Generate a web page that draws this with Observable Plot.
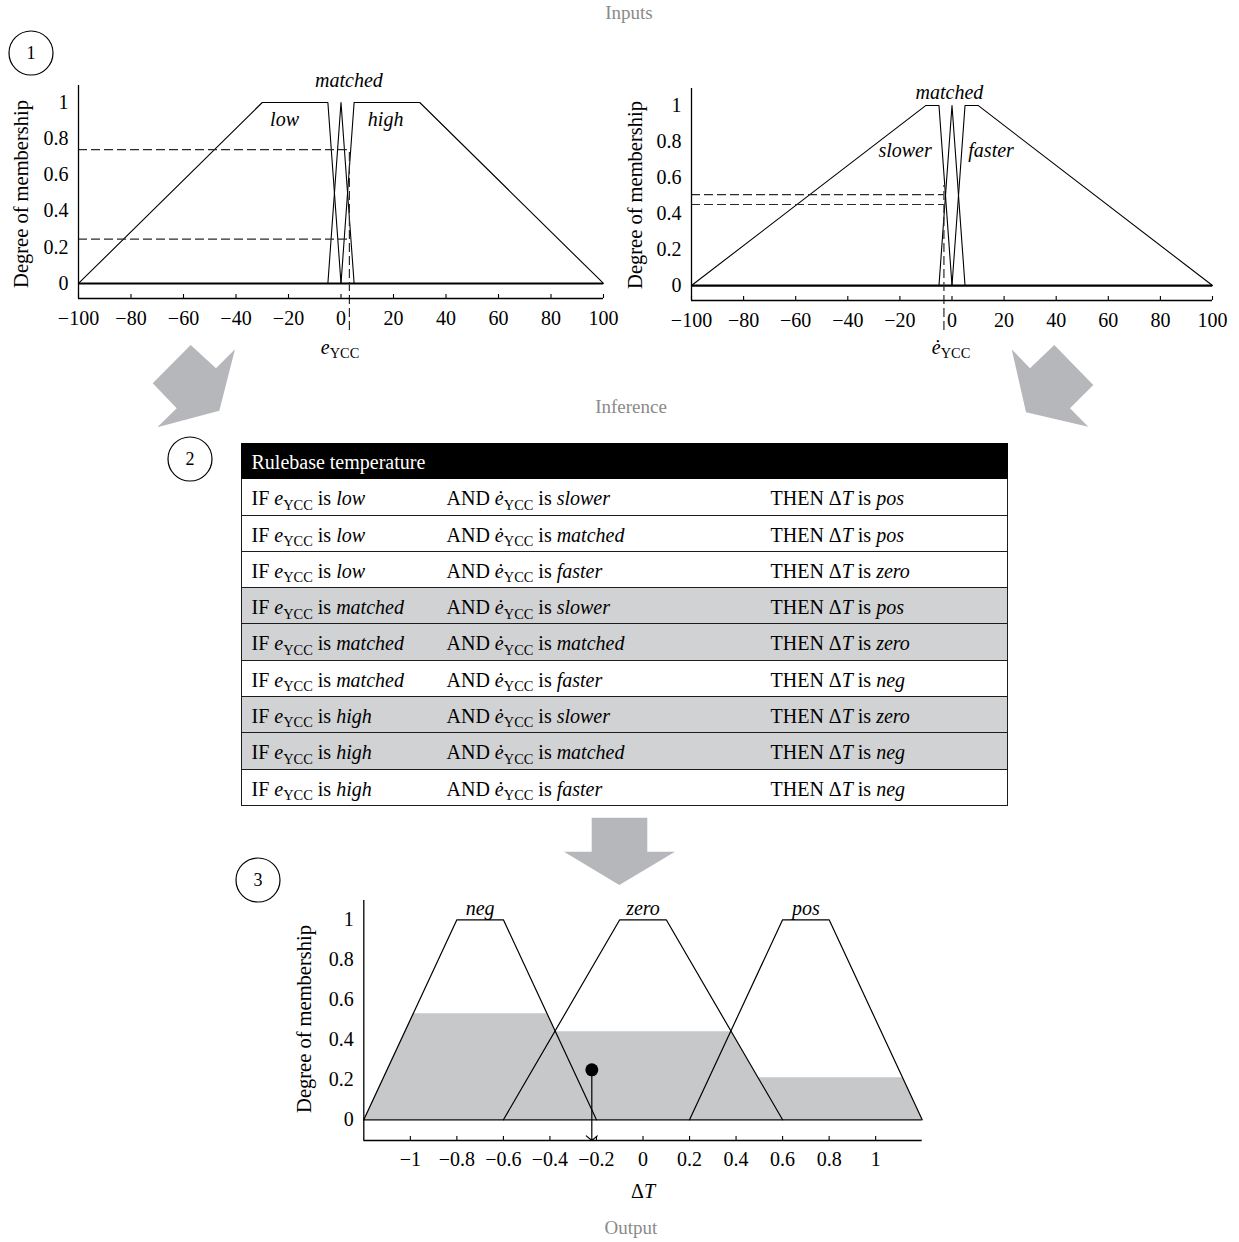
<!DOCTYPE html>
<html>
<head>
<meta charset="utf-8">
<script src="https://cdn.jsdelivr.net/npm/d3@7"></script>
<script src="https://cdn.jsdelivr.net/npm/@observablehq/plot@0.6"></script>
<style>
  body { margin: 0; background: #fff; }
  #page { position: relative; width: 1239px; height: 1242px; overflow: hidden; font-family: "Liberation Serif", "DejaVu Serif", serif; color: #000; }
  .sec { position: absolute; color: #8a8a8a; font-size: 19px; transform: translate(-50%, -50%); white-space: nowrap; }
  .lab { position: absolute; font-size: 20px; transform: translate(-50%, -50%); white-space: nowrap; line-height: 1.15; }
  .ylab { position: absolute; font-size: 20.5px; transform: translate(-50%, -50%) rotate(-90deg); white-space: nowrap; line-height: 1.15; }
  .sub { font-size: 0.72em; position: relative; top: 0.3em; }
  #table { position: absolute; left: 241px; top: 443px; width: 767px; font-size: 20px; }
  .row { display: flex; height: 36.3px; box-sizing: border-box; border-left: 1.5px solid #1c1c1c; border-right: 1.5px solid #1c1c1c; border-bottom: 1.6px solid #1c1c1c; line-height: 34px; white-space: nowrap; }
  .row > div { box-sizing: border-box; padding-left: 9.5px; position: relative; top: 2px; }
  .hdr { background: #000; color: #fff; border-color: #000; }
  .c1 { width: 195px; } .c2 { width: 324px; } .c3 { width: 245px; }
  .shade { background: #d1d2d4; }
</style>
</head>
<body>
<div id="page"></div>
<script>
// ---------------- data ----------------
const xTicksInput = [-100, -80, -60, -40, -20, 0, 20, 40, 60, 80, 100];
const yTicksMembership = [0, 0.2, 0.4, 0.6, 0.8, 1];
const xTicksOutput = [-1, -0.8, -0.6, -0.4, -0.2, 0, 0.2, 0.4, 0.6, 0.8, 1];

// input 1: e_YCC
const eLowX = [-100, -30, -5, 0];     const eLowY = [0, 1, 1, 0];
const eMatchedX = [-5, 0, 5];         const eMatchedY = [0, 1, 0];
const eHighX = [0, 5, 30, 100];       const eHighY = [0, 1, 1, 0];
const eInput = 3.2;
const eDegrees = [0.74, 0.245];
const eInputSpan = [-0.26, 0.74];
const eLabels = ["low", "matched", "high"];
const eLabelX = [-21.5, 3, 17];
const eLabelY = [0.905, 1.12, 0.905];

// input 2: e-dot_YCC
const dSlowerX = [-100, -10, -5, 0];  const dSlowerY = [0, 1, 1, 0];
const dMatchedX = [-5, 0, 5];         const dMatchedY = [0, 1, 0];
const dFasterX = [0, 5, 10, 100];     const dFasterY = [0, 1, 1, 0];
const dInput = -3.1;
const dDegrees = [0.505, 0.45];
const dInputSpan = [-0.25, 0.555];
const dLabels = ["slower", "matched", "faster"];
const dLabelX = [-18, -1, 15];
const dLabelY = [0.75, 1.072, 0.75];

// output: Delta T
const negX = [-1.2, -0.8, -0.6, -0.2];
const zeroX = [-0.6, -0.1, 0.1, 0.6];
const posX = [0.2, 0.6, 0.8, 1.2];
const outY = [0, 1, 1, 0];
const aggX = [-1.2, -0.988, -0.412, -0.376, 0.378, 0.495, 1.116, 1.2];
const aggY = [0, 0.53, 0.53, 0.44, 0.44, 0.21, 0.21, 0];
const centroidX = -0.22;
const centroidY = 0.25;
const outLabels = ["neg", "zero", "pos"];
const outLabelX = [-0.7, 0, 0.7];
const outLabelY = [1.056, 1.056, 1.056];

// rule base
const ruleE = ["low", "low", "low", "matched", "matched", "matched", "high", "high", "high"];
const ruleD = ["slower", "matched", "faster", "slower", "matched", "faster", "slower", "matched", "faster"];
const ruleT = ["pos", "pos", "zero", "pos", "zero", "neg", "zero", "neg", "neg"];
const ruleShade = [false, false, false, true, true, false, true, true, false];

// ---------------- helpers ----------------
const fmt = d => (d < 0 ? "\u2212" + Math.abs(d) : String(d));
const pts = (xs, ys) => xs.map((x, i) => ({x, y: ys[i]}));
const lbls = (t, xs, ys) => t.map((text, i) => ({text, x: xs[i], y: ys[i]}));
const page = document.getElementById("page");
const font = "'Liberation Serif', 'DejaVu Serif', serif";

function place(el, left, top) {
  el.style.position = "absolute";
  el.style.left = left + "px";
  el.style.top = top + "px";
  page.appendChild(el);
}

// inward tick marks of 4px at the bottom of the frame
const innerTicks = (ticks, frameHeight) =>
  Plot.tickX(ticks, {x: d => d, insetTop: frameHeight - 4, stroke: "#000", strokeWidth: 1.1});

function inputPlot(o) {
  const [x0, x1] = [-100, 100];
  const [y0, y1] = [-0.083, 1.094];
  const dash = {stroke: "#2a2a2a", strokeWidth: 1.2, strokeDasharray: "9,4"};
  const frameH = o.height - o.mt - o.mb;
  return Plot.plot({
    width: o.width, height: o.height,
    marginLeft: o.ml, marginRight: o.mr, marginTop: o.mt, marginBottom: o.mb,
    style: {fontFamily: font, fontSize: "20px", background: "transparent", color: "#000", overflow: "visible"},
    x: {domain: [x0, x1]},
    y: {domain: [y0, y1]},
    marks: [
      Plot.ruleY([0], {x1: x0, x2: x1, stroke: "#000", strokeWidth: 2.2}),
      ...o.sets.map(s => Plot.line(s, {x: "x", y: "y", stroke: "#000", strokeWidth: 1.1})),
      Plot.ruleY(o.degrees, {x1: x0, x2: o.input, ...dash}),
      Plot.ruleX([o.input], {y1: o.span[0], y2: o.span[1], ...dash}),
      Plot.ruleX([x0], {y1: y0, y2: y1, stroke: "#000", strokeWidth: 1.3}),
      Plot.ruleY([y0], {x1: x0, x2: x1, stroke: "#000", strokeWidth: 1.3}),
      innerTicks(xTicksInput, frameH),
      Plot.text(o.labels, {x: "x", y: "y", text: "text", fontStyle: "italic", fontSize: 20}),
      Plot.axisX(xTicksInput, {tickSize: 0, tickPadding: 12.5, tickFormat: fmt, label: null, fontSize: 20}),
      Plot.axisY(yTicksMembership, {tickSize: 0, tickPadding: 10, tickFormat: fmt, label: null, fontSize: 20})
    ]
  });
}

// ---------------- decorations ----------------
const deco = document.createElementNS("http://www.w3.org/2000/svg", "svg");
deco.setAttribute("width", 1239);
deco.setAttribute("height", 1242);
deco.innerHTML = `
  <g fill="#b6b7ba" stroke="none">
    <polygon points="190.7,345 216,368.3 235,349.3 219.3,410.7 157.3,427.3 176.7,408.3 152.7,383.3"/>
    <polygon points="1011.7,349.3 1030,368.3 1054.3,345 1093.3,385 1070,408.3 1088.3,426.7 1026,412.3"/>
    <polygon points="591.7,817.7 647.3,817.7 647.3,851.7 675,851.7 619.3,885 564,851.7 591.7,851.7"/>
  </g>
  <g fill="none" stroke="#000" stroke-width="1.2">
    <circle cx="31" cy="53" r="22"/>
    <circle cx="190" cy="459" r="22"/>
    <circle cx="258" cy="880" r="22"/>
  </g>
  <g font-family="${font}" font-size="18" text-anchor="middle" dominant-baseline="central">
    <text x="31" y="53">1</text>
    <text x="190" y="459">2</text>
    <text x="258" y="880">3</text>
  </g>`;
place(deco, 0, 0);

// section titles
for (const [t, x, y] of [["Inputs", 629, 13], ["Inference", 631, 407], ["Output", 631, 1228]]) {
  const d = document.createElement("div");
  d.className = "sec"; d.textContent = t;
  d.style.left = x + "px"; d.style.top = y + "px";
  page.appendChild(d);
}

// ---------------- input plots ----------------
const plotE = inputPlot({
  width: 620, height: 270, ml: 78, mr: 17, mt: 15, mb: 42,
  sets: [pts(eLowX, eLowY), pts(eMatchedX, eMatchedY), pts(eHighX, eHighY)],
  degrees: eDegrees, input: eInput, span: eInputSpan,
  labels: lbls(eLabels, eLabelX, eLabelY)
});
place(plotE, 0, 70);

const plotD = inputPlot({
  width: 619, height: 272, ml: 71, mr: 27, mt: 18, mb: 42,
  sets: [pts(dSlowerX, dSlowerY), pts(dMatchedX, dMatchedY), pts(dFasterX, dFasterY)],
  degrees: dDegrees, input: dInput, span: dInputSpan,
  labels: lbls(dLabels, dLabelX, dLabelY)
});
place(plotD, 620, 70);

// ---------------- output plot ----------------
{
  const [x0, x1] = [-1.2, 1.2];
  const [y0, y1] = [-0.1035, 1.0965];
  const plotT = Plot.plot({
    width: 680, height: 300,
    marginLeft: 83.3, marginRight: 38.3, marginTop: 20, marginBottom: 40,
    style: {fontFamily: font, fontSize: "20px", background: "transparent", color: "#000", overflow: "visible"},
    x: {domain: [x0, x1]},
    y: {domain: [y0, y1]},
    marks: [
      Plot.areaY(pts(aggX, aggY), {x: "x", y: "y", fill: "#c6c8ca"}),
      Plot.ruleY([0], {x1: x0, x2: x1, stroke: "#000", strokeWidth: 1.3}),
      Plot.line(pts(negX, outY), {x: "x", y: "y", stroke: "#000", strokeWidth: 1.2}),
      Plot.line(pts(zeroX, outY), {x: "x", y: "y", stroke: "#000", strokeWidth: 1.2}),
      Plot.line(pts(posX, outY), {x: "x", y: "y", stroke: "#000", strokeWidth: 1.2}),
      Plot.ruleX([x0], {y1: y0, y2: y1, stroke: "#000", strokeWidth: 1.3}),
      Plot.ruleY([y0], {x1: x0, x2: x1, stroke: "#000", strokeWidth: 1.3}),
      innerTicks(xTicksOutput, 240),
      Plot.arrow([{x: centroidX, ya: centroidY, yb: y0}], {x1: "x", x2: "x", y1: "ya", y2: "yb", stroke: "#000", strokeWidth: 1.2, headLength: 9, headAngle: 100}),
      Plot.dot([{x: centroidX, y: centroidY}], {x: "x", y: "y", r: 6.5, fill: "#000", stroke: "none"}),
      Plot.text(lbls(outLabels, outLabelX, outLabelY), {x: "x", y: "y", text: "text", fontStyle: "italic", fontSize: 20}),
      Plot.axisX(xTicksOutput, {tickSize: 0, tickPadding: 11, tickFormat: fmt, label: null, fontSize: 20}),
      Plot.axisY(yTicksMembership, {tickSize: 0, tickPadding: 10, tickFormat: fmt, label: null, fontSize: 20})
    ]
  });
  place(plotT, 280, 880);
}

// ---------------- axis labels ----------------
function htmlLabel(cls, html, x, y) {
  const d = document.createElement("div");
  d.className = cls; d.innerHTML = html;
  d.style.left = x + "px"; d.style.top = y + "px";
  page.appendChild(d);
}
htmlLabel("lab", `<i>e</i><span class="sub">YCC</span>`, 340, 347);
htmlLabel("lab", `<i>ė</i><span class="sub">YCC</span>`, 951, 347);
htmlLabel("lab", `Δ<i>T</i>`, 643, 1191);
htmlLabel("ylab", "Degree of membership", 22, 194);
htmlLabel("ylab", "Degree of membership", 636, 195);
htmlLabel("ylab", "Degree of membership", 305, 1019);

// ---------------- rule base table ----------------
const table = document.createElement("div");
table.id = "table";
let html = `<div class="row hdr"><div>Rulebase temperature</div></div>`;
ruleE.forEach((e, i) => {
  html += `<div class="row${ruleShade[i] ? " shade" : ""}">` +
    `<div class="c1">IF <i>e</i><span class="sub">YCC</span> is <i>${e}</i></div>` +
    `<div class="c2">AND <i>ė</i><span class="sub">YCC</span> is <i>${ruleD[i]}</i></div>` +
    `<div class="c3">THEN Δ<i>T</i> is <i>${ruleT[i]}</i></div>` +
    `</div>`;
});
table.innerHTML = html;
page.appendChild(table);
</script>
</body>
</html>
